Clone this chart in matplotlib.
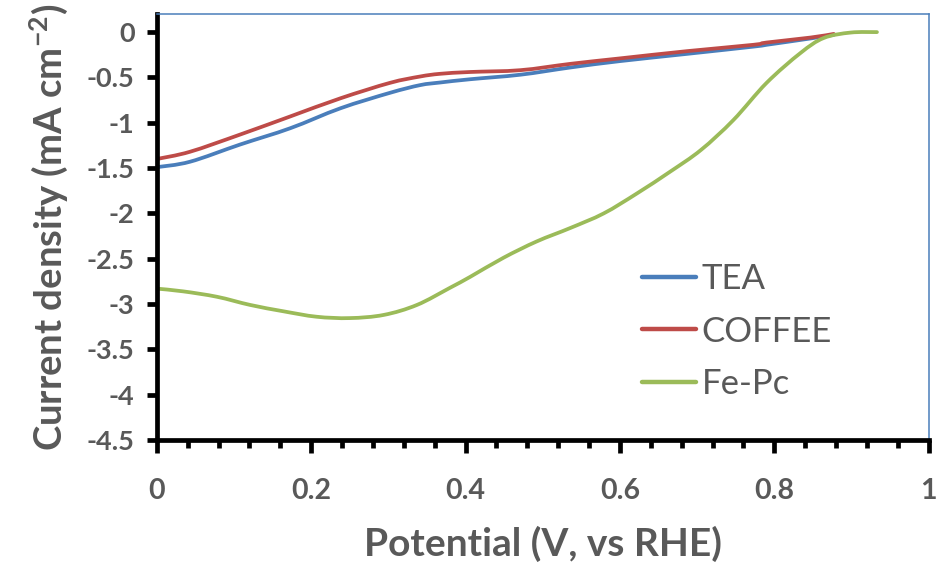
import matplotlib
matplotlib.use("Agg")
import matplotlib.pyplot as plt
from matplotlib.ticker import MultipleLocator, FuncFormatter
from matplotlib.path import Path
from matplotlib.patches import PathPatch
from matplotlib.lines import Line2D

plt.rcParams['font.family'] = ['Lato', 'DejaVu Sans']
plt.rcParams['mathtext.fontset'] = 'custom'
plt.rcParams['mathtext.rm'] = 'Lato:bold'
plt.rcParams['mathtext.default'] = 'regular'

# LSV curves: potential (V vs RHE) vs current density (mA cm^-2)
tea_x = [0.0, 0.043, 0.108, 0.173, 0.238, 0.302, 0.341, 0.367, 0.406, 0.471,
         0.536, 0.60, 0.687, 0.773, 0.79, 0.847, 0.877]
tea_y = [-1.49, -1.43, -1.24, -1.06, -0.84, -0.67, -0.585, -0.556, -0.52, -0.47,
         -0.39, -0.32, -0.24, -0.16, -0.14, -0.07, -0.03]

coffee_x = [0.0, 0.043, 0.108, 0.173, 0.238, 0.302, 0.341, 0.367, 0.406, 0.471,
            0.536, 0.60, 0.687, 0.773, 0.79, 0.847, 0.877]
coffee_y = [-1.40, -1.32, -1.13, -0.93, -0.73, -0.56, -0.49, -0.46, -0.44, -0.42,
            -0.35, -0.29, -0.21, -0.14, -0.115, -0.06, -0.02]

fepc_x = [0.0, 0.034, 0.078, 0.121, 0.164, 0.207, 0.25, 0.294, 0.337, 0.38,
          0.406, 0.449, 0.492, 0.536, 0.579, 0.622, 0.665, 0.705, 0.747, 0.79,
          0.834, 0.864, 0.899, 0.933]
fepc_y = [-2.83, -2.86, -2.92, -3.01, -3.08, -3.14, -3.155, -3.12, -3.01, -2.82,
          -2.70, -2.49, -2.31, -2.16, -2.00, -1.78, -1.54, -1.30, -0.97, -0.56,
          -0.23, -0.065, -0.005, 0.0]

labels = ["TEA", "COFFEE", "Fe-Pc"]
colors = ["#4A7EBB", "#BE4B48", "#9BBB59"]

grey = "#595959"
LW = 2.7


def smooth_path(xs, ys, tension=1.0 / 6.0):
    """Catmull-Rom style cubic Bezier path through the given points."""
    n = len(xs)
    verts = [(xs[0], ys[0])]
    codes = [Path.MOVETO]
    for i in range(n - 1):
        x0, y0 = (xs[i - 1], ys[i - 1]) if i > 0 else (xs[i], ys[i])
        x1, y1 = xs[i], ys[i]
        x2, y2 = xs[i + 1], ys[i + 1]
        x3, y3 = (xs[i + 2], ys[i + 2]) if i + 2 < n else (x2, y2)
        c1 = (x1 + (x2 - x0) * tension, y1 + (y2 - y0) * tension)
        c2 = (x2 - (x3 - x1) * tension, y2 - (y3 - y1) * tension)
        verts += [c1, c2, (x2, y2)]
        codes += [Path.CURVE4] * 3
    return Path(verts, codes)


fig = plt.figure(figsize=(9.39, 5.66), dpi=100)
ax = fig.add_axes([0.167, 0.2226, 0.822, 0.7527])

handles = []
for xs, ys, lab, c in zip([tea_x, coffee_x, fepc_x], [tea_y, coffee_y, fepc_y], labels, colors):
    ax.add_patch(PathPatch(smooth_path(xs, ys), fill=False, edgecolor=c, lw=LW,
                           capstyle='round', joinstyle='round'))
    handles.append(Line2D([], [], color=c, lw=3.2, solid_capstyle='round', label=lab))

ax.set_xlim(0, 1)
ax.set_ylim(-4.5, 0.2)

ax.xaxis.set_major_locator(MultipleLocator(0.2))
ax.xaxis.set_minor_locator(MultipleLocator(0.04))
ax.set_yticks([i * -0.5 for i in range(10)])


def tick_fmt(v, pos):
    v = round(v, 2)
    if v == 0:
        return "0"
    return "%g" % v


fmt = FuncFormatter(tick_fmt)
ax.xaxis.set_major_formatter(fmt)
ax.yaxis.set_major_formatter(fmt)

for side in ("left", "bottom"):
    ax.spines[side].set_color("black")
    ax.spines[side].set_linewidth(3.4)
for side in ("top", "right"):
    ax.spines[side].set_color("#4A7EBB")
    ax.spines[side].set_linewidth(1.1)

ax.tick_params(axis='y', which='major', direction='out', length=7, width=3.4,
               color='black', pad=9, labelsize=19.5, labelcolor=grey)
ax.tick_params(axis='x', which='major', direction='out', length=9, width=3.4,
               color='black', pad=18, labelsize=20.5, labelcolor=grey)
ax.tick_params(axis='x', which='minor', direction='out', length=6, width=3.4,
               color='black')
for t in ax.get_xticklabels() + ax.get_yticklabels():
    t.set_fontweight('bold')

ax.set_xlabel("Potential (V, vs RHE)", fontsize=28, fontweight='bold', color=grey, labelpad=16)
ax.set_ylabel("Current density (mA cm$^{-2}$)", fontsize=27.5, fontweight='bold', color=grey, labelpad=12)

leg = ax.legend(handles=handles, loc='upper left', bbox_to_anchor=(0.611, 0.448),
                frameon=False, fontsize=25, handlelength=1.56, handletextpad=0.15,
                labelspacing=0.59, borderaxespad=0)
for t in leg.get_texts():
    t.set_color(grey)

fig.savefig("out.png", dpi=100)
